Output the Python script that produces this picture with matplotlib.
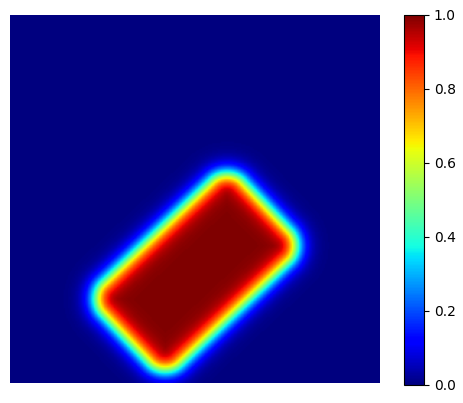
import numpy as np
import matplotlib
matplotlib.use("Agg")
import matplotlib.pyplot as plt

## Field parameters (fractions of the image width, y measured from the top)
grid_n = 256
center = [0.503, 0.699]
half_len = 0.262
half_wid = 0.152
corner_r = 0.06
angle_deg = 43.4
edge_w = 0.016

## Colorbar ticks
cbar_ticks = [0.0, 0.2, 0.4, 0.6, 0.8, 1.0]

# Grid
x = (np.arange(grid_n) + 0.5) / grid_n
X, Y = np.meshgrid(x, x)

# Rotate into rectangle frame (screen y points down)
th = np.deg2rad(angle_deg)
dx = X - center[0]
dy = Y - center[1]
u = dx * np.cos(th) - dy * np.sin(th)
v = dx * np.sin(th) + dy * np.cos(th)

# Signed distance to rounded rectangle
qx = np.abs(u) - (half_len - corner_r)
qy = np.abs(v) - (half_wid - corner_r)
outside = np.hypot(np.maximum(qx, 0), np.maximum(qy, 0))
inside = np.minimum(np.maximum(qx, qy), 0)
d = outside + inside - corner_r

field = 1.0 / (1.0 + np.exp(d / edge_w))

# Plotting
fig = plt.figure(figsize=(4.64, 4.03), dpi=100)
ax = fig.add_axes([10 / 464, 20 / 403, 370 / 464, 368 / 403])
cax = fig.add_axes([404 / 464, 18 / 403, 20 / 464, 370 / 403])

im = ax.imshow(field, cmap="jet", vmin=0, vmax=1, origin="upper", aspect="auto")
ax.axis("off")

cb = fig.colorbar(im, cax=cax, ticks=cbar_ticks)

fig.savefig("out.png", dpi=100)
